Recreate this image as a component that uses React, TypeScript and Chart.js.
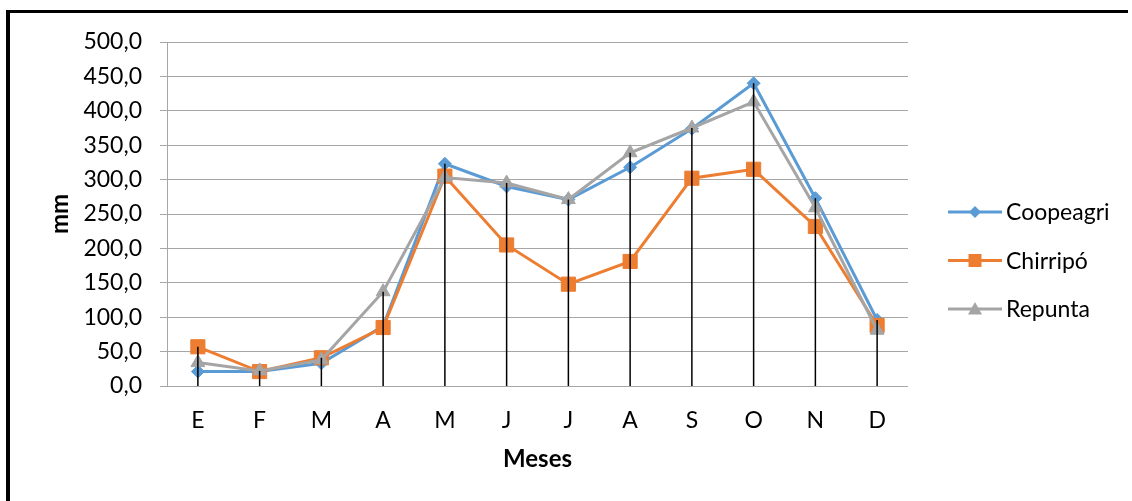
import React, { useEffect, useRef } from 'react';
import { Chart, registerables } from 'chart.js';

Chart.register(...registerables);

const categories = ['E', 'F', 'M', 'A', 'M', 'J', 'J', 'A', 'S', 'O', 'N', 'D'];
const coopeagri = [21, 21, 33, 87, 323, 290, 271, 318, 374, 440, 273, 96];
const chirripo = [57, 21, 41, 85, 305, 205, 148, 181, 302, 315, 232, 88];
const repunta = [34, 22, 38, 137, 303, 295, 271, 339, 375, 413, 259, 81];
const seriesNames = ['Coopeagri', 'Chirripó', 'Repunta'];
const yMin = 0;
const yMax = 500;
const yStep = 50;
const yTitle = 'mm';
const xTitle = 'Meses';

const COLORS = ['#5B9BD5', '#ED7D31', '#A5A5A5'];
const FONT = 'Lato, "Liberation Sans", sans-serif';
const GRID = '#a6a6a6';

function drawMarker(ctx: CanvasRenderingContext2D, kind: number, x: number, y: number, color: string) {
  ctx.save();
  ctx.fillStyle = color;
  ctx.beginPath();
  if (kind === 0) {
    const r = 6;
    ctx.moveTo(x, y - r);
    ctx.lineTo(x + r, y);
    ctx.lineTo(x, y + r);
    ctx.lineTo(x - r, y);
    ctx.closePath();
  } else if (kind === 1) {
    ctx.rect(x - 6.5, y - 6.5, 13, 13);
  } else {
    ctx.moveTo(x, y - 7);
    ctx.lineTo(x + 7, y + 5.5);
    ctx.lineTo(x - 7, y + 5.5);
    ctx.closePath();
  }
  ctx.fill();
  ctx.restore();
}

export default function App() {
  const ref = useRef<HTMLCanvasElement>(null);

  useEffect(() => {
    const canvas = ref.current!;
    const seriesData = [coopeagri, chirripo, repunta];

    const dropLines = {
      id: 'dropLines',
      afterDatasetsDraw(chart: any) {
        const { ctx } = chart;
        const xs = chart.scales.x;
        const ys = chart.scales.y;
        ctx.save();
        ctx.strokeStyle = '#000';
        ctx.lineWidth = 1.5;
        categories.forEach((_, i) => {
          const mx = Math.max(...seriesData.map((s) => s[i]));
          const x = xs.getPixelForValue(i);
          ctx.beginPath();
          ctx.moveTo(x, ys.getPixelForValue(mx));
          ctx.lineTo(x, ys.getPixelForValue(0));
          ctx.stroke();
        });
        ctx.restore();
      },
    };

    const customLegend = {
      id: 'customLegend',
      afterDraw(chart: any) {
        const { ctx } = chart;
        ctx.save();
        seriesNames.forEach((name, i) => {
          const y = 212 + i * 48.5;
          ctx.strokeStyle = COLORS[i];
          ctx.lineWidth = 3;
          ctx.beginPath();
          ctx.moveTo(948, y);
          ctx.lineTo(1002, y);
          ctx.stroke();
          drawMarker(ctx, i, 975, y, COLORS[i]);
          ctx.fillStyle = '#000';
          ctx.font = `23px ${FONT}`;
          ctx.textAlign = 'left';
          ctx.textBaseline = 'middle';
          ctx.fillText(name, 1006, y + 1);
        });
        ctx.restore();
      },
    };

    const frame = {
      id: 'frame',
      afterDraw(chart: any) {
        const { ctx } = chart;
        ctx.save();
        ctx.fillStyle = '#000';
        ctx.fillRect(6, 10, 1122, 3);
        ctx.fillRect(6, 10, 4, 491);
        ctx.restore();
      },
    };

    const chart = new Chart(canvas, {
      type: 'line',
      data: {
        labels: categories,
        datasets: seriesData.map((d, i) => ({
          label: seriesNames[i],
          data: d,
          borderColor: COLORS[i],
          backgroundColor: COLORS[i],
          pointBackgroundColor: COLORS[i],
          pointBorderColor: COLORS[i],
          pointBorderWidth: 1,
          borderWidth: 3,
          tension: 0,
          pointStyle: i === 0 ? 'rectRot' : i === 1 ? 'rect' : 'triangle',
          pointRadius: i === 0 ? 6.5 : i === 1 ? 10 : 8,
          order: 3 - i,
          clip: false as any,
        })),
      },
      options: {
        responsive: false,
        animation: false,
        events: [],
        layout: { padding: { left: 0, top: 42, right: 224, bottom: 0 } },
        plugins: {
          legend: { display: false },
          tooltip: { enabled: false },
        },
        scales: {
          x: {
            offset: true,
            grid: { display: false, drawTicks: false, offset: true },
            border: { display: false },
            ticks: { color: '#000', padding: 21, font: { family: FONT, size: 23 } },
            title: {
              display: true,
              text: xTitle,
              color: '#000',
              font: { family: FONT, size: 24, weight: 'bold' },
              padding: { top: 0, bottom: 27 },
            },
            afterFit(scale: any) {
              scale.height = 115;
            },
          },
          y: {
            min: yMin,
            max: yMax,
            grid: { color: GRID, lineWidth: 1, drawTicks: true, tickLength: 7, tickColor: GRID },
            border: { display: true, color: GRID, width: 1 },
            ticks: {
              stepSize: yStep,
              color: '#000',
              padding: 18,
              font: { family: FONT, size: 23 },
              callback: (v: any) => Number(v).toFixed(1).replace('.', ','),
            },
            title: {
              display: true,
              text: yTitle,
              color: '#000',
              font: { family: FONT, size: 24, weight: 'bold' },
              padding: { top: 46, bottom: 0 },
            },
            afterFit(scale: any) {
              scale.width = 167;
            },
          },
        },
      },
      plugins: [dropLines, customLegend, frame],
    } as any);

    return () => chart.destroy();
  }, []);

  return (
    <div style={{ position: 'fixed', left: 0, top: 0, width: 1132, height: 501, background: '#fff' }}>
      <canvas ref={ref} width={1132} height={501} style={{ display: 'block', width: 1132, height: 501 }} />
    </div>
  );
}
